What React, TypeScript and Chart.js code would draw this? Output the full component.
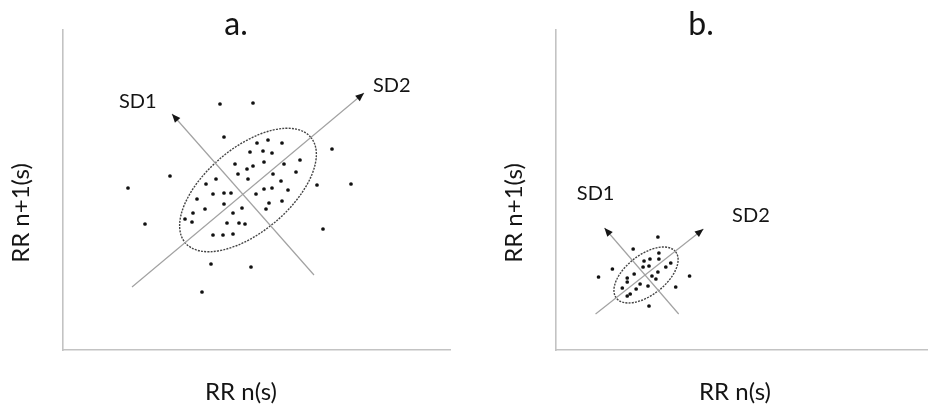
import React, { useEffect, useRef } from "react";
import { Chart, registerables } from "chart.js";

Chart.register(...registerables);

// ---------- Data (arbitrary RR units) ----------
// Panel a: wide Poincaré cloud
const A_RR_N = [157, 190, 161, 269, 107, 65, 288, 254, 82, 260, 148, 188, 139,
  194, 205, 219, 187, 200, 209, 172, 184, 190, 201, 221, 237, 153, 175, 185, 210, 233,
  143, 218, 150, 161, 168, 193, 201, 209, 225, 134, 161, 219, 142, 170, 179, 203, 206,
  130, 122, 129, 164, 176, 182, 150, 160, 170];
const A_RR_N1 = [246, 247, 213, 201, 174, 162, 166, 165, 126, 121, 86, 83, 58,
  207, 210, 207, 198, 199, 197, 186, 181, 184, 188, 186, 190, 171, 176, 171, 176, 178,
  166, 169, 156, 157, 157, 156, 161, 162, 160, 151, 146, 149, 141, 137, 142, 141, 147,
  137, 131, 128, 127, 127, 126, 115, 115, 116];
const A_SD1_X = [251, 109];
const A_SD1_Y = [75, 236];
const A_SD2_X = [69, 301];
const A_SD2_Y = [63, 257];
const A_ELLIPSE_CENTER = [185, 160];
const A_ELLIPSE_AXES = [82, 42];
const A_ELLIPSE_ANGLE = 40;
const A_X_RANGE = [0, 387];
const A_Y_RANGE = [0, 320];

// Panel b: narrow Poincaré cloud
const B_RR_N = [103, 78, 57, 43, 135, 121, 94,
  104, 89, 95, 104, 116, 88, 94, 111, 103, 79, 72, 97, 101, 72, 67, 85, 93, 81, 75, 72];
const B_RR_N1 = [113, 101, 81, 73, 74, 63, 44,
  97, 89, 91, 91, 87, 83, 84, 83, 78, 76, 72, 74, 71, 68, 62, 66, 64, 61, 56, 54];
const B_SD1_X = [124, 49];
const B_SD1_Y = [36, 122];
const B_SD2_X = [40, 149];
const B_SD2_Y = [36, 121];
const B_ELLIPSE_CENTER = [91, 75];
const B_ELLIPSE_AXES = [38, 20];
const B_ELLIPSE_ANGLE = 38;
const B_X_RANGE = [0, 375];
const B_Y_RANGE = [0, 320];

// ---------- Text ----------
const PANEL_TITLES = ["a.", "b."];
const X_TITLE = "RR n(s)";
const Y_TITLE = "RR n+1(s)";
const SD_LABELS = ["SD1", "SD2"];

const FONT = "Lato, 'Open Sans', sans-serif";
const TEXT_COLOR = "#141414";

type PanelCfg = {
  left: number;
  width: number;
  height: number;
  padding: { left: number; right: number; top: number; bottom: number };
  xs: number[];
  ys: number[];
  sd1x: number[];
  sd1y: number[];
  sd2x: number[];
  sd2y: number[];
  ellCenter: number[];
  ellAxes: number[];
  ellAngle: number;
  xRange: number[];
  yRange: number[];
  title: string;
  titlePos: [number, number];
  xTitlePos: [number, number];
  yTitlePos: [number, number];
  sd1Pos: [number, number]; // data coords (left, baseline)
  sd2Pos: [number, number];
};

const PANELS: PanelCfg[] = [
  {
    left: 0,
    width: 470,
    height: 405,
    padding: { left: 63, right: 20, top: 30, bottom: 55 },
    xs: A_RR_N,
    ys: A_RR_N1,
    sd1x: A_SD1_X,
    sd1y: A_SD1_Y,
    sd2x: A_SD2_X,
    sd2y: A_SD2_Y,
    ellCenter: A_ELLIPSE_CENTER,
    ellAxes: A_ELLIPSE_AXES,
    ellAngle: A_ELLIPSE_ANGLE,
    xRange: A_X_RANGE,
    yRange: A_Y_RANGE,
    title: PANEL_TITLES[0],
    titlePos: [236, 35],
    xTitlePos: [241, 400],
    yTitlePos: [29, 213],
    sd1Pos: [56, 242],
    sd2Pos: [310, 258],
  },
  {
    left: 470,
    width: 461,
    height: 405,
    padding: { left: 86, right: 0, top: 30, bottom: 55 },
    xs: B_RR_N,
    ys: B_RR_N1,
    sd1x: B_SD1_X,
    sd1y: B_SD1_Y,
    sd2x: B_SD2_X,
    sd2y: B_SD2_Y,
    ellCenter: B_ELLIPSE_CENTER,
    ellAxes: B_ELLIPSE_AXES,
    ellAngle: B_ELLIPSE_ANGLE,
    xRange: B_X_RANGE,
    yRange: B_Y_RANGE,
    title: PANEL_TITLES[1],
    titlePos: [231, 35],
    xTitlePos: [265, 400],
    yTitlePos: [52, 213],
    sd1Pos: [21, 150],
    sd2Pos: [178, 128],
  },
];

function Panel({ cfg }: { cfg: PanelCfg }) {
  const ref = useRef<HTMLCanvasElement>(null);

  useEffect(() => {
    const canvas = ref.current;
    if (!canvas) return;

    const ellipsePlugin = {
      id: "ellipse",
      beforeDatasetsDraw(chart: any) {
        const { ctx, scales } = chart;
        const x = scales.x, y = scales.y;
        const cx = x.getPixelForValue(cfg.ellCenter[0]);
        const cy = y.getPixelForValue(cfg.ellCenter[1]);
        const rx = Math.abs(x.getPixelForValue(cfg.ellCenter[0] + cfg.ellAxes[0]) - cx);
        const ry = Math.abs(y.getPixelForValue(cfg.ellCenter[1] + cfg.ellAxes[1]) - cy);
        ctx.save();
        ctx.beginPath();
        ctx.ellipse(cx, cy, rx, ry, (-cfg.ellAngle * Math.PI) / 180, 0, Math.PI * 2);
        ctx.setLineDash([2, 1.2]);
        ctx.lineWidth = 1.4;
        ctx.strokeStyle = "#444444";
        ctx.stroke();
        ctx.restore();
      },
    };

    const arrowPlugin = {
      id: "arrowheads",
      afterDatasetsDraw(chart: any) {
        const { ctx } = chart;
        chart.data.datasets.forEach((ds: any, i: number) => {
          if (!ds.arrow) return;
          const pts = chart.getDatasetMeta(i).data;
          if (pts.length < 2) return;
          const p1 = pts[pts.length - 2];
          const p2 = pts[pts.length - 1];
          const ang = Math.atan2(p2.y - p1.y, p2.x - p1.x);
          const len = 8.5;
          const hw = 3.6;
          const bx = p2.x - len * Math.cos(ang);
          const by = p2.y - len * Math.sin(ang);
          ctx.save();
          ctx.beginPath();
          ctx.moveTo(p2.x, p2.y);
          ctx.lineTo(bx + hw * Math.sin(ang), by - hw * Math.cos(ang));
          ctx.lineTo(bx - hw * Math.sin(ang), by + hw * Math.cos(ang));
          ctx.closePath();
          ctx.fillStyle = "#151515";
          ctx.fill();
          ctx.restore();
        });
      },
    };

    const textPlugin = {
      id: "texts",
      afterDraw(chart: any) {
        const { ctx, scales } = chart;
        ctx.save();
        ctx.fillStyle = TEXT_COLOR;
        ctx.textBaseline = "alphabetic";

        // panel title
        ctx.font = `32px ${FONT}`;
        ctx.textAlign = "center";
        ctx.fillText(cfg.title, cfg.titlePos[0], cfg.titlePos[1]);

        // x axis title
        ctx.font = `24px ${FONT}`;
        ctx.textAlign = "center";
        ctx.fillText(X_TITLE, cfg.xTitlePos[0], cfg.xTitlePos[1]);

        // y axis title (rotated)
        ctx.save();
        ctx.translate(cfg.yTitlePos[0], cfg.yTitlePos[1]);
        ctx.rotate(-Math.PI / 2);
        ctx.textAlign = "center";
        ctx.fillText(Y_TITLE, 0, 0);
        ctx.restore();

        // SD labels anchored to data
        ctx.font = `20px ${FONT}`;
        ctx.textAlign = "left";
        ctx.fillText(
          SD_LABELS[0],
          scales.x.getPixelForValue(cfg.sd1Pos[0]),
          scales.y.getPixelForValue(cfg.sd1Pos[1])
        );
        ctx.fillText(
          SD_LABELS[1],
          scales.x.getPixelForValue(cfg.sd2Pos[0]),
          scales.y.getPixelForValue(cfg.sd2Pos[1])
        );
        ctx.restore();
      },
    };

    const toPts = (xs: number[], ys: number[]) => xs.map((v, i) => ({ x: v, y: ys[i] }));

    const axisOpts = (range: number[]) => ({
      type: "linear" as const,
      min: range[0],
      max: range[1],
      grid: { display: false, drawTicks: false },
      ticks: { display: false },
      border: { display: true, color: "#c3c3c3", width: 1.6 },
      title: { display: false },
    });

    const chart = new Chart(canvas, {
      type: "scatter",
      data: {
        datasets: [
          {
            type: "line",
            data: toPts(cfg.sd2x, cfg.sd2y),
            borderColor: "#a2a2a2",
            borderWidth: 1.2,
            pointRadius: 0,
            fill: false,
            arrow: true,
          } as any,
          {
            type: "line",
            data: toPts(cfg.sd1x, cfg.sd1y),
            borderColor: "#a2a2a2",
            borderWidth: 1.2,
            pointRadius: 0,
            fill: false,
            arrow: true,
          } as any,
          {
            type: "scatter",
            data: toPts(cfg.xs, cfg.ys),
            pointRadius: 1.85,
            pointBackgroundColor: "#111",
            backgroundColor: "#111",
            borderWidth: 0,
          } as any,
        ],
      },
      options: {
        responsive: false,
        maintainAspectRatio: false,
        animation: false,
        layout: { padding: cfg.padding },
        plugins: {
          legend: { display: false },
          tooltip: { enabled: false },
          title: { display: false },
        },
        scales: {
          x: axisOpts(cfg.xRange),
          y: axisOpts(cfg.yRange),
        },
      },
      plugins: [ellipsePlugin, arrowPlugin, textPlugin],
    });

    return () => chart.destroy();
  }, [cfg]);

  return (
    <canvas
      ref={ref}
      width={cfg.width}
      height={cfg.height}
      style={{
        position: "absolute",
        left: cfg.left,
        top: 0,
        width: cfg.width,
        height: cfg.height,
      }}
    />
  );
}

export default function App() {
  return (
    <div
      style={{
        position: "absolute",
        left: 0,
        top: 0,
        width: 931,
        height: 405,
        background: "#ffffff",
        overflow: "hidden",
      }}
    >
      {PANELS.map((p, i) => (
        <Panel key={i} cfg={p} />
      ))}
    </div>
  );
}
